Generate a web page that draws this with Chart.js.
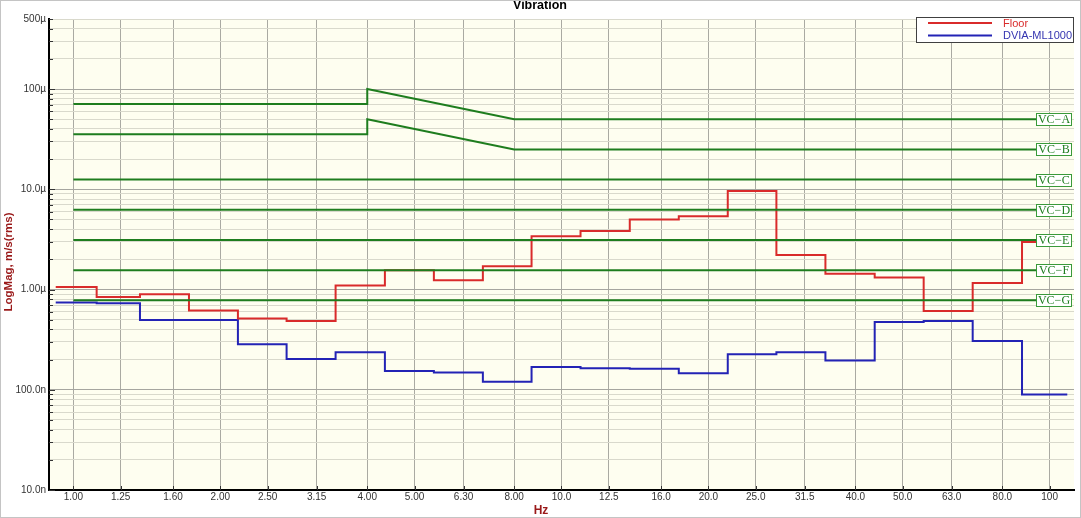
<!DOCTYPE html>
<html>
<head>
<meta charset="utf-8">
<script src="https://cdn.jsdelivr.net/npm/chart.js@4.4.1/dist/chart.umd.min.js"></script>
<style>
  html, body { margin: 0; padding: 0; background: #ffffff; }
  #wrap { width: 1081px; height: 518px; position: relative; }
  canvas { display: block; }
</style>
</head>
<body>
<div id="wrap"><canvas id="c" width="1081" height="518"></canvas></div>
<script>
// ---------- DATA ----------
const xTickValues = [1, 1.25, 1.6, 2, 2.5, 3.15, 4, 5, 6.3, 8, 10, 12.5, 16, 20, 25, 31.5, 40, 50, 63, 80, 100];
const xTickLabels = ['1.00','1.25','1.60','2.00','2.50','3.15','4.00','5.00','6.30','8.00','10.0','12.5','16.0','20.0','25.0','31.5','40.0','50.0','63.0','80.0','100'];

// y axis in µm/s(rms)
const yMajorValues = [0.01, 0.1, 1, 10, 100, 500];
const yMajorLabels = ['10.0n', '100.0n', '1.00µ', '10.0µ', '100µ', '500µ'];

// band edges (Hz) of the one-third-octave steps
const bandEdges = [0.920, 1.116, 1.369, 1.725, 2.173, 2.734, 3.445, 4.347, 5.477, 6.901, 8.683,
                   10.94, 13.80, 17.39, 21.91, 27.56, 34.73, 43.82, 55.21, 69.57, 87.8, 108.7];
// band levels, µm/s(rms)
const floorValues = [1.06, 0.844, 0.898, 0.617, 0.514, 0.486, 1.10, 1.56, 1.24, 1.71, 3.40,
                     3.84, 4.99, 5.39, 9.6, 2.21, 1.44, 1.32, 0.612, 1.16, 2.98];
const dviaValues  = [0.742, 0.730, 0.498, 0.498, 0.285, 0.203, 0.237, 0.154, 0.149, 0.120, 0.169,
                     0.164, 0.162, 0.146, 0.226, 0.237, 0.196, 0.475, 0.486, 0.306, 0.0895];

// VC criteria curves
const vcNames = ['VC\u2212A', 'VC\u2212B', 'VC\u2212C', 'VC\u2212D', 'VC\u2212E', 'VC\u2212F', 'VC\u2212G'];
const vcAFreq = [1, 4, 4, 8, 94];
const vcAVal  = [71, 71, 100, 50, 50];
const vcBFreq = [1, 4, 4, 8, 94];
const vcBVal  = [35.5, 35.5, 50, 25, 25];
const vcFlatFreq = [1, 94];
const vcFlatLevels = [12.5, 6.25, 3.12, 1.56, 0.78];

// ---------- STYLE ----------
const RED = '#d92b2b', BLUE = '#2323b5', GREEN = '#1e7d1e', AXIS_RED = '#9a1a1a';
const FONT = '"Liberation Sans", Arial, sans-serif';

function stepPoints(values) {
  const pts = values.map((v, i) => ({ x: bandEdges[i], y: v }));
  pts.push({ x: bandEdges[values.length], y: values[values.length - 1] });
  return pts;
}
function curve(fr, vals) { return fr.map((f, i) => ({ x: f, y: vals[i] })); }

const datasets = [];
datasets.push({ label: 'Floor', data: stepPoints(floorValues), borderColor: RED, borderWidth: 2, stepped: 'before', order: 1 });
datasets.push({ label: 'DVIA-ML1000', data: stepPoints(dviaValues), borderColor: BLUE, borderWidth: 2, stepped: 'before', order: 2 });
const vcCurves = [curve(vcAFreq, vcAVal), curve(vcBFreq, vcBVal)]
  .concat(vcFlatLevels.map(l => curve(vcFlatFreq, [l, l])));
vcCurves.forEach((d, i) => datasets.push({ label: vcNames[i], vc: true, data: d, borderColor: GREEN, borderWidth: 2, order: 0 }));

const decorPlugin = {
  id: 'decor',
  beforeDraw(chart) {
    const { ctx, chartArea: a } = chart;
    ctx.save();
    ctx.fillStyle = '#ffffff';
    ctx.fillRect(0, 0, chart.width, chart.height);
    ctx.fillStyle = '#fefef0';
    ctx.fillRect(a.left, a.top, a.right - a.left, a.bottom - a.top);
    ctx.restore();
  },
  afterDatasetsDraw(chart) {
    const { ctx, chartArea: a } = chart;
    ctx.save();
    // VC labels
    chart.data.datasets.forEach((ds, i) => {
      if (!ds.vc) return;
      const meta = chart.getDatasetMeta(i);
      const p = meta.data[meta.data.length - 1];
      const x = Math.round(p.x) + 0.5, y = Math.round(p.y);
      ctx.fillStyle = '#ffffff';
      ctx.fillRect(x, y - 6, 35, 12);
      ctx.strokeStyle = '#3a9a3a';
      ctx.lineWidth = 1;
      ctx.strokeRect(x, y - 6 + 0.5, 35, 12);
      ctx.fillStyle = GREEN;
      ctx.font = '12px "Liberation Serif", "DejaVu Serif", serif';
      ctx.textAlign = 'center';
      ctx.textBaseline = 'middle';
      ctx.fillText(ds.label, x + 17.5, y + 1);
    });
    // tick marks
    ctx.strokeStyle = '#333333';
    ctx.lineWidth = 1;
    const ys = chart.scales.y;
    ys.ticks.forEach(t => {
      const py = Math.round(ys.getPixelForValue(t.value)) + 0.5;
      const len = t.major ? 6 : 4;
      ctx.beginPath(); ctx.moveTo(a.left, py); ctx.lineTo(a.left + len, py); ctx.stroke();
    });
    const xs = chart.scales.x;
    xTickValues.forEach(v => {
      const px = Math.round(xs.getPixelForValue(v)) + 0.5;
      ctx.beginPath(); ctx.moveTo(px, a.bottom); ctx.lineTo(px, a.bottom - 4); ctx.stroke();
    });
    ctx.restore();
  },
  afterDraw(chart) {
    const { ctx, chartArea: a } = chart;
    ctx.save();
    // title
    ctx.fillStyle = '#000000';
    ctx.font = 'bold 12.5px ' + FONT;
    ctx.textAlign = 'center';
    ctx.textBaseline = 'middle';
    ctx.fillText('Vibration', 540, 6);
    // axis titles
    ctx.fillStyle = AXIS_RED;
    ctx.font = 'bold 12px ' + FONT;
    ctx.fillText('Hz', 541, 511);
    ctx.translate(9, 262);
    ctx.rotate(-Math.PI / 2);
    ctx.font = 'bold 11.5px ' + FONT;
    ctx.fillText('LogMag, m/s(rms)', 0, 0);
    ctx.setTransform(1, 0, 0, 1, 0, 0);
    ctx.restore();
    ctx.save();
    // legend
    const lx = 916.5, ly = 17.5, lw = 157, lh = 25;
    ctx.fillStyle = '#ffffff';
    ctx.fillRect(lx, ly, lw, lh);
    ctx.strokeStyle = '#404040';
    ctx.lineWidth = 1;
    ctx.strokeRect(lx, ly, lw, lh);
    const items = [{ c: RED, t: RED, label: chart.data.datasets[0].label, y: 23 },
                   { c: BLUE, t: '#3434b0', label: chart.data.datasets[1].label, y: 35.5 }];
    ctx.font = '11px ' + FONT;
    ctx.textAlign = 'left';
    ctx.textBaseline = 'middle';
    items.forEach(it => {
      ctx.strokeStyle = it.c; ctx.lineWidth = 2;
      ctx.beginPath(); ctx.moveTo(928, it.y); ctx.lineTo(992, it.y); ctx.stroke();
      ctx.fillStyle = it.t;
      ctx.fillText(it.label, 1003, it.y + 0.5);
    });
    // outer border
    ctx.strokeStyle = '#c4c4c4';
    ctx.lineWidth = 1;
    ctx.strokeRect(0.5, 0.5, chart.width - 1, chart.height - 1);
    ctx.restore();
  }
};

new Chart(document.getElementById('c'), {
  type: 'line',
  data: { datasets },
  options: {
    responsive: false,
    animation: false,
    devicePixelRatio: 1,
    layout: { padding: { top: 19, right: 7, bottom: 0, left: 0 } },
    elements: { point: { radius: 0 }, line: { tension: 0, fill: false } },
    plugins: { legend: { display: false }, title: { display: false }, tooltip: { enabled: false } },
    scales: {
      x: {
        type: 'logarithmic',
        min: 0.8913, max: 112.2,
        bounds: 'data',
        afterBuildTicks(scale) {
          scale.ticks = xTickValues.map((v, i) => ({ value: v, txt: xTickLabels[i] }));
        },
        afterFit(scale) { scale.height = 28; },
        ticks: {
          autoSkip: false, maxRotation: 0, minRotation: 0, padding: 1,
          color: '#333333', font: { family: FONT, size: 10 },
          callback(v, i, ticks) { return ticks[i].txt; }
        },
        grid: { drawTicks: false, color: '#aaaaa2', lineWidth: 1 },
        border: { display: true, color: '#000000', width: 2 }
      },
      y: {
        type: 'logarithmic',
        min: 0.01, max: 500,
        bounds: 'data',
        afterBuildTicks(scale) {
          const t = [];
          for (let e = -2; e <= 2; e++) {
            for (let m = 1; m <= 9; m++) {
              const v = m * Math.pow(10, e);
              if (v > 500 * 1.0001) break;
              const k = yMajorValues.findIndex(mv => Math.abs(mv - v) / mv < 1e-6);
              t.push({ value: v, major: m === 1, txt: k >= 0 ? yMajorLabels[k] : '' });
            }
          }
          scale.ticks = t;
        },
        afterFit(scale) { scale.width = 49; },
        ticks: {
          autoSkip: false, padding: 3,
          color: '#333333', font: { family: FONT, size: 10 },
          callback(v, i, ticks) { return ticks[i].txt; }
        },
        grid: {
          drawTicks: false, lineWidth: 1,
          color(ctx) { return ctx.tick && ctx.tick.major ? '#a6a6a0' : '#d9d9cc'; }
        },
        border: { display: true, color: '#000000', width: 2 }
      }
    }
  },
  plugins: [decorPlugin]
});
</script>
</body>
</html>
